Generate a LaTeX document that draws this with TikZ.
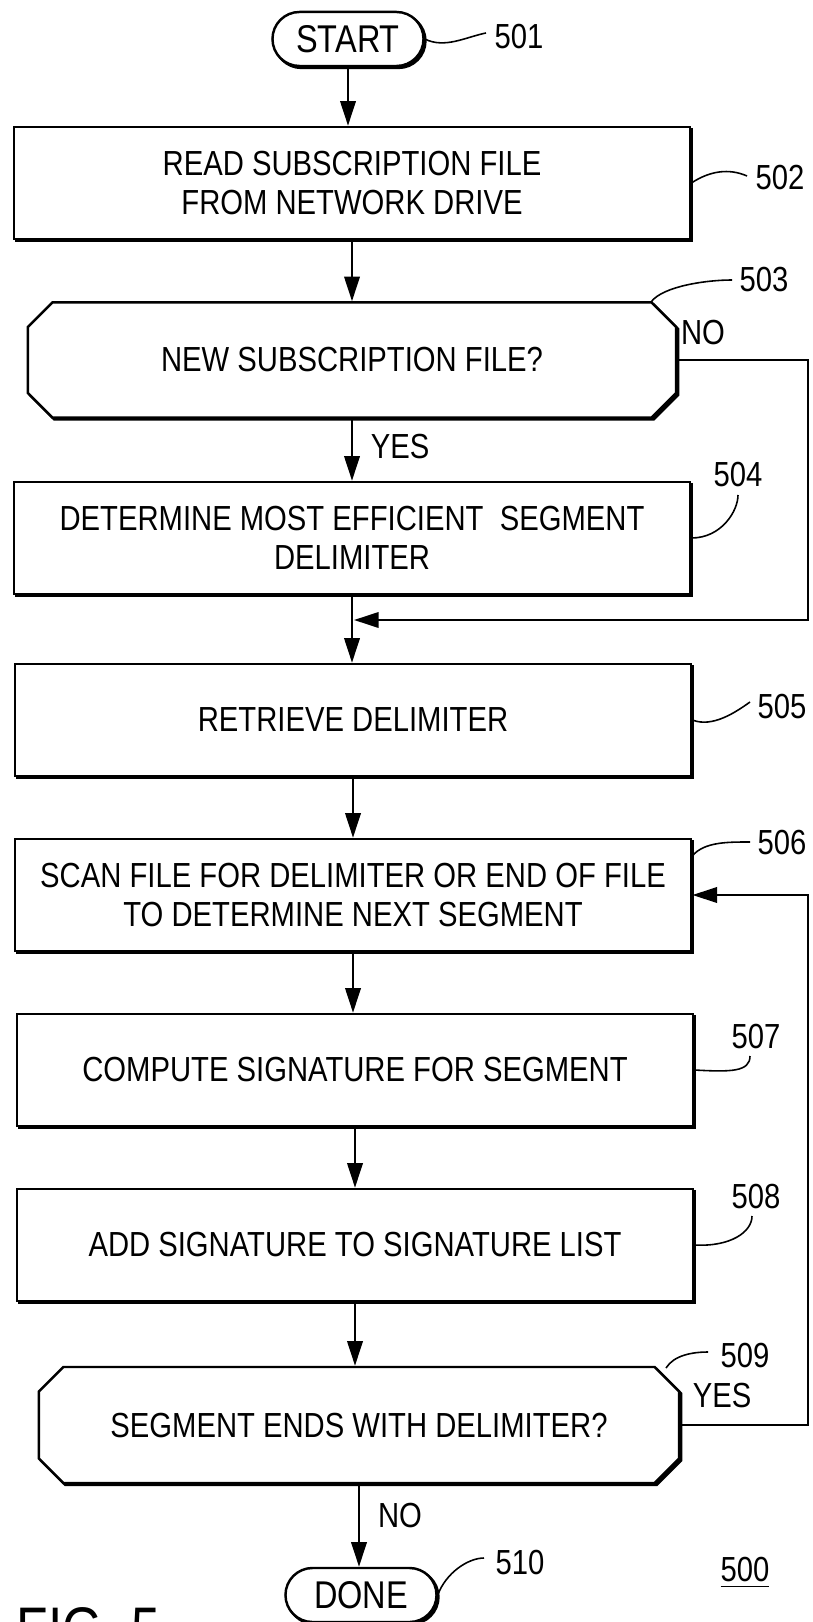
\documentclass[tikz,border=0pt]{standalone}
\usepackage{fontspec}
\setmainfont{Liberation Sans}[FakeStretch=0.84]
\usetikzlibrary{shapes.misc,shadows,arrows.meta}

\newcommand{\boxfont}{\fontsize{9.9}{11.1}\selectfont}
\newcommand{\termfont}{\fontsize{11}{12}\selectfont}
\newcommand{\figfont}{\fontsize{17.5}{20}\selectfont}

\tikzset{
  flowline/.style={line width=0.7pt},
  arrowline/.style={line width=0.6pt,-{Triangle[length=7pt,width=4.4pt]}},
  leader/.style={line width=0.45pt},
  boxshadow/.style={copy shadow={shadow xshift=0.55pt,shadow yshift=-0.55pt,draw=black,fill=black}},
  procbox/.style={draw,flowline,fill=white,boxshadow,rectangle,
    minimum width=6.76cm,minimum height=1.12cm,align=center},
  testbox/.style={draw,flowline,fill=white,boxshadow,chamfered rectangle,
    chamfered rectangle xsep=0.26cm,minimum height=1.15cm,inner sep=0pt},
  termbox/.style={draw,flowline,fill=white,boxshadow,rounded rectangle,
    minimum width=1.58cm,minimum height=0.54cm,inner sep=1pt,font=\termfont},
  reflabel/.style={inner sep=0pt}
}

\begin{document}
\begin{tikzpicture}[x=0.01cm,y=-0.01cm]
        \clip (0,0) rectangle (812,1622);
        {\boxfont

        % Start terminal 501
        \node [termbox] (n501) at (348,39) {START};%
        \node [reflabel] (l501) at (519,37) {501};%
        \coordinate (e501) at (486,33);%
        \draw [leader] (n501.east) .. controls +(20,10) and +(-20,4) .. (e501);%

        % Box 502
        \node [procbox] (n502) at (352,183) {READ SUBSCRIPTION FILE\\FROM NETWORK DRIVE};%
        \node [reflabel] (l502) at (780,178) {502};%
        \coordinate (e502) at (747,176);%
        \draw [leader] (n502.east) .. controls +(18,-12) and +(-18,-8) .. (e502);%

        % Test 503
        \node [testbox,minimum width=6.48cm] (n503) at (352,360) {NEW SUBSCRIPTION FILE?};%
        \node [reflabel] (l503) at (764,280) {503};%
        \coordinate (s503) at (651,302);%
        \coordinate (e503) at (732,280);%
        \draw [leader] (s503) .. controls +(12,-16) and +(-25,0) .. (e503);%
        \node [reflabel] (no503) at (703,333) {NO};%
        \node [reflabel] (yes503) at (400,447) {YES};%

        % Box 504
        \node [procbox] (n504) at (352,538) {DETERMINE MOST EFFICIENT\ \ SEGMENT\\DELIMITER};%
        \node [reflabel] (l504) at (738,475) {504};%
        \coordinate (e504) at (738,495);%
        \draw [leader] (n504.east) .. controls +(30,0) and +(0,16) .. (e504);%
        \coordinate (j504) at (354,620);%

        % Box 505
        \node [procbox] (n505) at (353,720) {RETRIEVE DELIMITER};%
        \node [reflabel] (l505) at (782,707) {505};%
        \coordinate (e505) at (750,702);%
        \draw [leader] (n505.east) .. controls +(20,8) and +(-14,10) .. (e505);%

        % Box 506
        \node [procbox] (n506) at (353,895) {SCAN FILE FOR DELIMITER OR END OF FILE\\TO DETERMINE NEXT SEGMENT};%
        \node [reflabel] (l506) at (782,843) {506};%
        \coordinate (e506) at (750,842);%
        \draw [leader] (n506.north east) ++(0,18) coordinate (s506) .. controls +(12,-14) and +(-22,0) .. (e506);%

        % Box 507
        \node [procbox] (n507) at (355,1070) {COMPUTE SIGNATURE FOR SEGMENT};%
        \node [reflabel] (l507) at (756,1037) {507};%
        \coordinate (e507) at (750,1056);%
        \draw [leader] (n507.east) .. controls +(36,2) and +(0,16) .. (e507);%

        % Box 508
        \node [procbox] (n508) at (355,1245) {ADD SIGNATURE TO SIGNATURE LIST};%
        \node [reflabel] (l508) at (756,1197) {508};%
        \coordinate (e508) at (752,1216);%
        \draw [leader] (n508.east) .. controls +(36,2) and +(0,16) .. (e508);%

        % Test 509
        \node [testbox,minimum width=6.40cm,minimum height=1.16cm] (n509) at (359,1425) {SEGMENT ENDS WITH DELIMITER?};%
        \node [reflabel] (l509) at (745,1355) {509};%
        \coordinate (s509) at (666,1368);%
        \coordinate (e509) at (708,1352);%
        \draw [leader] (s509) .. controls +(8,-13) and +(-15,0) .. (e509);%
        \node [reflabel] (yes509) at (722,1395) {YES};%
        \node [reflabel] (no509) at (400,1515) {NO};%

        % Done terminal 510
        \node [termbox] (n510) at (361,1595) {DONE};%
        \node [reflabel] (l510) at (520,1562) {510};%
        \coordinate (e510) at (484,1558);%
        \draw [leader] (n510.east) .. controls +(8,-22) and +(-16,0) .. (e510);%

        % Figure number and label
        \node [reflabel] (l500) at (745,1573) {\underline{500}};%
        \node [reflabel,anchor=north west,font=\figfont] (fig5) at (16,1607) {FIG. 5};%

        % Drawing main flow
        \draw [arrowline] (n501.south) -- (n501.south |- n502.north);%
        \draw [arrowline] (n502.south) -- (n502.south |- n503.north);%
        \draw [arrowline] (n503.south) -- (n503.south |- n504.north);%
        \draw [arrowline] (n504.south) -- (n504.south |- n505.north);%
        \draw [arrowline] (n505.south) -- (n505.south |- n506.north);%
        \draw [arrowline] (n506.south) -- (n506.south |- n507.north);%
        \draw [arrowline] (n507.south) -- (n507.south |- n508.north);%
        \draw [arrowline] (n508.south) -- (n508.south |- n509.north);%
        \draw [arrowline] (n509.south) -- (n509.south |- n510.north);%

        % Drawing loops
        \draw [arrowline] (n503.east) -| (808,620) -- (j504);%
        \draw [arrowline] (n509.east) -| (808,895) -- (n506.east);%
        }
\end{tikzpicture}
\end{document}
